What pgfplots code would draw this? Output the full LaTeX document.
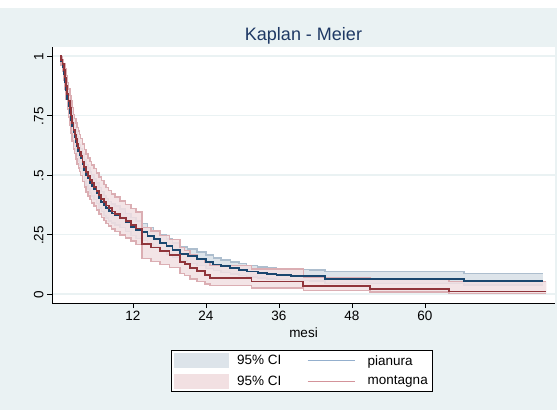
\documentclass[border=0pt]{standalone}
\usepackage{pgfplots}
\pgfplotsset{compat=1.18}
\usepackage{pgfplotstable}
\usepgfplotslibrary{fillbetween}
\usepackage{fontspec}
\setmainfont{Liberation Sans}

\definecolor{bgcol}{HTML}{EAF2F3}
\definecolor{navy}{HTML}{1A476F}
\definecolor{maroon}{HTML}{90353B}
\definecolor{ciblue}{HTML}{DDE4EA}
\definecolor{ciblueline}{HTML}{ADBECE}
\definecolor{cipink}{HTML}{F2E0E2}
\definecolor{cipinkline}{HTML}{DBAEB3}
\definecolor{titlecol}{HTML}{1E3864}
\definecolor{legblue}{HTML}{94AFCD}
\definecolor{legred}{HTML}{D3939A}

\pgfplotsset{
    layers/conbg/.define layer set={
        bgpic,axis background,axis grid,axis ticks,axis lines,
        axis tick labels,pre main,main,axis descriptions,axis foreground
    }{},
}

% pianura: mesi, stima KM, limite inferiore, limite superiore
\pgfplotstableread{
x    s     lo    hi
0    1     1     1
0.2  0.98  0.965 0.99
0.4  0.955 0.935 0.97
0.6  0.925 0.90  0.945
0.8  0.89  0.862 0.915
1.0  0.855 0.825 0.882
1.2  0.82  0.787 0.85
1.4  0.79  0.755 0.822
1.6  0.76  0.724 0.794
1.8  0.73  0.693 0.766
2.0  0.705 0.666 0.742
2.2  0.68  0.64  0.718
2.4  0.66  0.62  0.699
2.6  0.64  0.60  0.68
2.8  0.62  0.579 0.66
3.0  0.60  0.558 0.641
3.2  0.585 0.543 0.627
3.4  0.57  0.527 0.612
3.7  0.545 0.502 0.588
4.0  0.52  0.476 0.564
4.3  0.50  0.456 0.544
4.6  0.485 0.441 0.529
4.9  0.468 0.424 0.512
5.2  0.455 0.411 0.499
5.6  0.44  0.397 0.483
6.0  0.423 0.38  0.466
6.4  0.405 0.362 0.448
6.8  0.388 0.346 0.43
7.2  0.372 0.33  0.414
7.6  0.36  0.319 0.401
8.0  0.348 0.307 0.389
8.5  0.338 0.298 0.378
9.0  0.33  0.29  0.37
9.9  0.318 0.279 0.357
10.8 0.30  0.262 0.338
11.7 0.283 0.245 0.321
12.5 0.27  0.233 0.307
13.4 0.26  0.224 0.296
14.4 0.245 0.21  0.28
15.4 0.232 0.198 0.266
16.4 0.215 0.182 0.248
17.5 0.20  0.168 0.232
18.5 0.184 0.153 0.215
19.7 0.168 0.138 0.198
21.0 0.158 0.129 0.188
22.5 0.148 0.12  0.177
24.0 0.135 0.108 0.163
25.2 0.124 0.098 0.151
26.5 0.116 0.091 0.142
28.0 0.108 0.084 0.134
29.4 0.101 0.078 0.127
30.7 0.094 0.072 0.12
32.5 0.088 0.067 0.114
34.0 0.084 0.063 0.11
35.6 0.080 0.06  0.105
38.0 0.077 0.057 0.102
41.0 0.075 0.055 0.10
43.6 0.064 0.045 0.094
66.4 0.056 0.038 0.087
79.4 0.056 0.038 0.087
}\pianura

% montagna
\pgfplotstableread{
x    s     lo    hi
0    1     1     1
0.2  0.985 0.96  0.996
0.4  0.965 0.935 0.984
0.6  0.94  0.90  0.968
0.8  0.91  0.862 0.945
1.0  0.875 0.82  0.918
1.2  0.84  0.778 0.888
1.4  0.81  0.743 0.862
1.6  0.78  0.71  0.835
1.8  0.75  0.675 0.81
2.0  0.72  0.642 0.783
2.2  0.69  0.61  0.755
2.4  0.67  0.59  0.737
2.6  0.65  0.568 0.719
2.8  0.63  0.547 0.70
3.0  0.613 0.53  0.685
3.2  0.597 0.514 0.67
3.4  0.58  0.497 0.654
3.7  0.555 0.472 0.63
4.0  0.532 0.449 0.608
4.3  0.512 0.429 0.589
4.6  0.495 0.412 0.572
4.9  0.48  0.398 0.557
5.2  0.465 0.383 0.542
5.6  0.45  0.369 0.527
6.0  0.432 0.352 0.509
6.4  0.415 0.336 0.492
6.8  0.40  0.322 0.477
7.2  0.385 0.308 0.461
7.6  0.372 0.296 0.447
8.0  0.36  0.285 0.435
8.5  0.347 0.273 0.421
9.0  0.335 0.262 0.408
9.9  0.318 0.247 0.39
10.8 0.305 0.235 0.376
11.7 0.29  0.222 0.36
12.5 0.275 0.208 0.345
13.5 0.21  0.15  0.28
15.0 0.195 0.137 0.265
16.4 0.18  0.124 0.245
18.0 0.165 0.111 0.228
19.7 0.135 0.085 0.195
20.5 0.125 0.077 0.182
21.4 0.108 0.062 0.165
22.5 0.095 0.052 0.15
23.8 0.08  0.041 0.135
24.7 0.066 0.035 0.12
31.5 0.052 0.025 0.105
40.0 0.035 0.015 0.07
51.0 0.021 0.008 0.06
64.0 0.01  0.002 0.052
80.0 0.01  0.002 0.052
}\montagna

\begin{document}
\begin{tikzpicture}
\begin{axis}[
    set layers=conbg,
    fill between/on layer=main,
    at={(52pt,107pt)}, anchor=south west,
    scale only axis, width=503pt, height=256pt,
    xmin=-1.32, xmax=81.4,
    ymin=-0.038, ymax=1.038,
    axis background/.style={fill=white},
    axis x line*=bottom, axis y line*=left,
    axis line style={-, black, line width=0.8pt},
    tick align=outside, major tick length=5pt,
    tick style={black, line width=0.6pt},
    xtick={12,24,36,48,60},
    ytick={0,0.25,0.5,0.75,1},
    yticklabels={0,.25,.5,.75,1},
    yticklabel style={rotate=90, anchor=south, xshift=-1pt},
    ymajorgrids, grid style={bgcol, line width=1.2pt},
    tick label style={font=\fontsize{13.5}{16}\selectfont},
    /pgf/number format/assume math mode=true,
    title={Kaplan - Meier},
    title style={font=\fontsize{18}{21}\selectfont, text=titlecol,
        at={(axis description cs:0.5,1)}, anchor=center, yshift=5pt},
    xlabel={mesi},
    xlabel style={font=\fontsize{13.5}{16}\selectfont,
        at={(axis description cs:0.5,0)}, anchor=center, yshift=-30pt},
    legend columns=2,
    legend cell align=left,
    legend style={at={(axis description cs:0.236,-0.1836)}, anchor=north west,
        draw=black, fill=white, line width=0.6pt,
        font=\fontsize{13.5}{16}\selectfont,
        /tikz/every odd column/.append style={column sep=6pt},
        /tikz/every even column/.append style={column sep=24pt},
        row sep=5pt, inner sep=3pt},
]
% sfondo del grafico
\begin{pgfonlayer}{bgpic}
\fill[bgcol] (rel axis cs:0,0) ++(-52pt,-107pt) rectangle ++(557pt,402pt);
\end{pgfonlayer}

% bande di confidenza
\addplot[const plot, draw=none, name path=bhi, forget plot] table[x=x, y=hi]{\pianura};
\addplot[const plot, draw=none, name path=blo, forget plot] table[x=x, y=lo]{\pianura};
\addplot[fill=ciblue, draw=none, forget plot] fill between[of=bhi and blo];
\addplot[const plot, ciblueline, line width=1.5pt, forget plot] table[x=x, y=hi]{\pianura};
\addplot[const plot, ciblueline, line width=1.5pt, forget plot] table[x=x, y=lo]{\pianura};

\addplot[const plot, draw=none, name path=rhi, forget plot] table[x=x, y=hi]{\montagna};
\addplot[const plot, draw=none, name path=rlo, forget plot] table[x=x, y=lo]{\montagna};
\addplot[fill=cipink, fill opacity=0.85, draw=none, forget plot] fill between[of=rhi and rlo];
\addplot[const plot, cipinkline, line width=1.5pt, forget plot] table[x=x, y=hi]{\montagna};
\addplot[const plot, cipinkline, line width=1.5pt, forget plot] table[x=x, y=lo]{\montagna};

% stime di Kaplan-Meier
\addplot[const plot, navy, line width=1.8pt, forget plot] table[x=x, y=s]{\pianura};
\addplot[const plot, maroon, line width=1.8pt, forget plot] table[x=x, y=s]{\montagna};

% legenda
\addlegendimage{legend image code/.code={\path[fill=ciblue, draw=none] (0pt,-7.5pt) rectangle (55pt,7.5pt);}}
\addlegendentry{95\% CI}
\addlegendimage{legend image code/.code={\path[draw=legblue, line width=0.9pt] (0pt,0pt) -- (47pt,0pt); \path[draw=none] (52pt,0pt);}}
\addlegendentry{pianura}
\addlegendimage{legend image code/.code={\path[fill=cipink, draw=none] (0pt,-7.5pt) rectangle (55pt,7.5pt);}}
\addlegendentry{95\% CI}
\addlegendimage{legend image code/.code={\path[draw=legred, line width=0.9pt] (0pt,0pt) -- (47pt,0pt); \path[draw=none] (52pt,0pt);}}
\addlegendentry{montagna}
\end{axis}
\path (0,0) rectangle (557pt,410pt);
\end{tikzpicture}
\end{document}
